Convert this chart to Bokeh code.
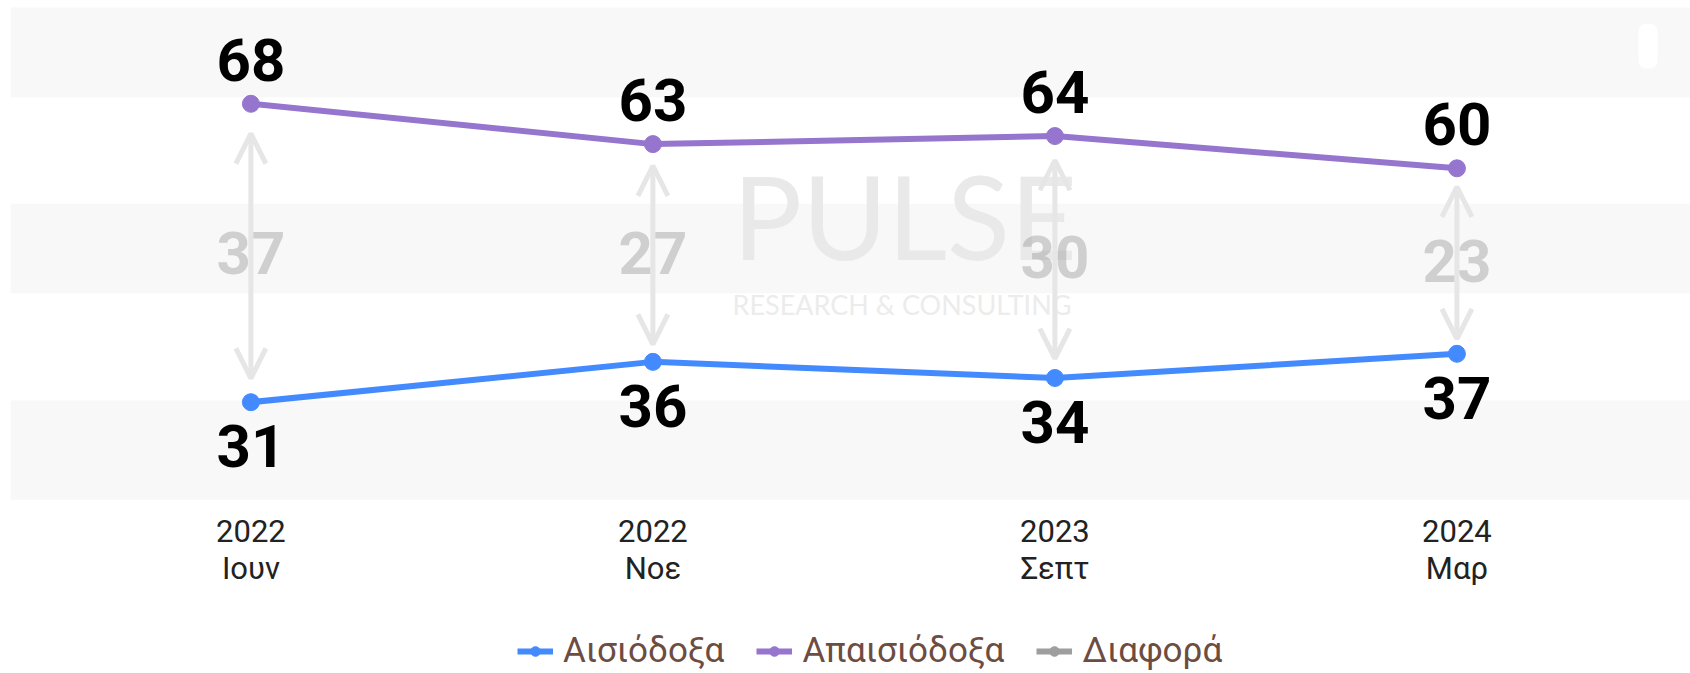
from bokeh.plotting import figure
from bokeh.models import (ColumnDataSource, Range1d, BoxAnnotation, Arrow, OpenHead,
                          Label, Legend, LegendItem)
from bokeh.core.properties import value
from bokeh.embed import file_html
from bokeh.resources import INLINE

# ---- data ----
years = ["2022", "2022", "2023", "2024"]
months = ["Ιουν", "Νοε", "Σεπτ", "Μαρ"]
optimistic = [31, 36, 34, 37]      # Αισιόδοξα
pessimistic = [68, 63, 64, 60]     # Απαισιόδοξα
series_names = ["Αισιόδοξα", "Απαισιόδοξα", "Διαφορά"]
bands = [(68.8, 80.0), (44.5, 55.6), (18.9, 31.2)]

BLUE = "#448aff"
PURPLE = "#9575cd"
GRAY = "#9e9e9e"
FONT = "Roboto"

xs = list(range(len(years)))
diff = [p - o for p, o in zip(pessimistic, optimistic)]
axis_base = min(lo for lo, hi in bands)
src = ColumnDataSource(dict(
    x=xs,
    opt=optimistic,
    pes=pessimistic,
    opt_t=[str(v) for v in optimistic],
    pes_t=[str(v) for v in pessimistic],
    diff_t=[str(v) for v in diff],
    mid=[(p + o) / 2 for p, o in zip(pessimistic, optimistic)],
    a_top=[p - 0.1 * d for p, d in zip(pessimistic, diff)],
    a_bot=[o + 0.08 * d for o, d in zip(optimistic, diff)],
    year=years,
    month=months,
    base=[axis_base] * len(xs),
    none=[float("nan")] * len(xs),
))

p = figure(frame_width=1680, frame_height=666,
           x_range=Range1d(-0.598, 3.581), y_range=Range1d(-2.64, 79.94),
           output_backend="svg", toolbar_location=None,
           x_axis_location=None, y_axis_location=None,
           min_border_left=10, min_border_right=0, min_border_top=7, min_border_bottom=0)
p.outline_line_color = None
p.grid.visible = False
p.background_fill_color = "white"

for lo, hi in bands:
    p.add_layout(BoxAnnotation(bottom=lo, top=hi, fill_color="#f8f8f8", fill_alpha=1.0,
                               line_color=None, level="underlay"))

# export-button placeholder (top right)
p.add_layout(BoxAnnotation(left=1628, right=1647, top=650, bottom=605,
                           left_units="screen", right_units="screen",
                           top_units="screen", bottom_units="screen",
                           fill_color="white", fill_alpha=1.0, line_color=None,
                           border_radius=8, level="underlay"))

# watermark
p.add_layout(Label(x=722, y=458, x_units="screen", y_units="screen", text="PULSE",
                   text_font="Lato", text_font_size="116px", text_color="#e9e9e9",
                   text_align="left", text_baseline="alphabetic", level="underlay"))
p.add_layout(Label(x=722, y=369, x_units="screen", y_units="screen",
                   text="RESEARCH & CONSULTING",
                   text_font="Lato", text_font_size="27px", text_color="#ececec",
                   text_align="left", text_baseline="alphabetic", level="underlay"))

# difference arrows
p.add_layout(Arrow(x_start="x", y_start="a_bot", x_end="x", y_end="a_top", source=src,
                   line_color="#e6e6e6", line_width=5,
                   start=OpenHead(size=30, line_color="#e6e6e6", line_width=5),
                   end=OpenHead(size=30, line_color="#e6e6e6", line_width=5)))
p.text(x="x", y="mid", text="diff_t", source=src, text_font=value(FONT),
       text_font_style="bold", text_font_size="60px", text_color=GRAY, text_alpha=0.45,
       text_align="center", text_baseline="middle")

# lines
l_pes = p.line("x", "pes", source=src, line_color=PURPLE, line_width=6)
c_pes = p.scatter("x", "pes", source=src, size=17, fill_color=PURPLE, line_color=PURPLE)
l_opt = p.line("x", "opt", source=src, line_color=BLUE, line_width=6)
c_opt = p.scatter("x", "opt", source=src, size=17, fill_color=BLUE, line_color=BLUE)
# legend-only renderers for the difference series (no plotted points)
l_gr = p.line("x", "none", source=src, line_color=GRAY, line_width=6)
c_gr = p.scatter("x", "none", source=src, size=17, fill_color=GRAY, line_color=GRAY)

# value labels
p.text(x="x", y="pes", text="pes_t", source=src, text_font=value(FONT),
       text_font_style="bold", text_font_size="60px", text_color="black",
       text_align="center", text_baseline="middle", y_offset=-44)
p.text(x="x", y="opt", text="opt_t", source=src, text_font=value(FONT),
       text_font_style="bold", text_font_size="60px", text_color="black",
       text_align="center", text_baseline="middle", y_offset=44)

# category labels (two lines) under the banded area
p.text(x="x", y="base", text="year", source=src, text_font=value(FONT),
       text_font_size="31px", text_color="#222222",
       text_align="center", text_baseline="middle", y_offset=31)
p.text(x="x", y="base", text="month", source=src, text_font=value(FONT),
       text_font_size="31px", text_color="#222222",
       text_align="center", text_baseline="middle", y_offset=69)

legend = Legend(items=[
    LegendItem(label=series_names[0], renderers=[l_opt, c_opt]),
    LegendItem(label=series_names[1], renderers=[l_pes, c_pes]),
    LegendItem(label=series_names[2], renderers=[l_gr, c_gr]),
], orientation="horizontal", location=(507, 2))
legend.label_text_font = FONT
legend.label_text_font_size = "35px"
legend.label_text_color = "#6d4c41"
legend.glyph_width = 36
legend.glyph_height = 24
legend.label_standoff = 10
legend.spacing = 32
legend.padding = 0
legend.margin = 0
legend.border_line_color = None
legend.background_fill_alpha = 0
p.add_layout(legend)

open("out.html", "w").write(file_html(p, INLINE))
